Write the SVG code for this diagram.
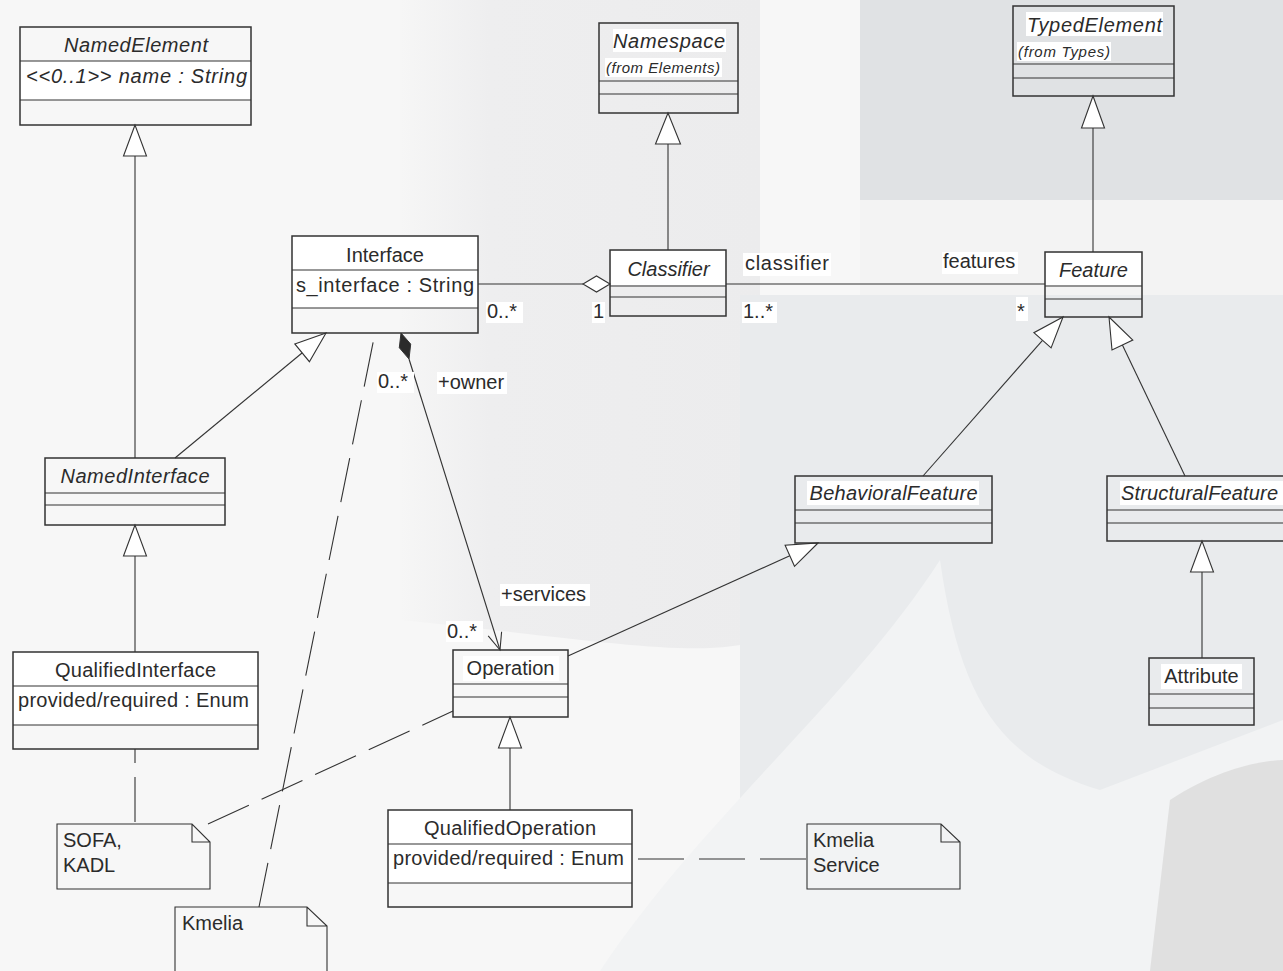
<svg xmlns="http://www.w3.org/2000/svg" width="1283" height="971" viewBox="0 0 1283 971">
<style>
.box{fill:none;stroke:#333;stroke-width:1.5}
.sep{stroke:#333;stroke-width:1.2}
.t{font-family:"Liberation Sans",Arial,sans-serif;font-size:20px;fill:#2b2b2b}
.i{font-style:italic}
.s{font-size:15px}
.m{text-anchor:middle}
.ln{stroke:#333;stroke-width:1.1;fill:none}
.dash{stroke-dasharray:45 14}
.tri{fill:#fff;stroke:#333;stroke-width:1.1}
.hl{fill:#fff}
.note{fill:none;stroke:#333;stroke-width:1.1}
</style>
<defs>
<linearGradient id="gMid" x1="0" y1="0" x2="1" y2="0">
<stop offset="0" stop-color="#f6f6f6"/>
<stop offset="0.25" stop-color="#eeeeef"/>
<stop offset="1" stop-color="#ececed"/>
</linearGradient>
</defs>
<g id="background">
<rect x="0" y="0" width="1283" height="971" fill="#f7f7f7"/>
<path d="M400,0 L760,0 L760,640 C700,660 600,640 400,620 Z" fill="url(#gMid)"/>
<rect x="860" y="0" width="423" height="200" fill="#e0e2e4"/>
<rect x="860" y="200" width="423" height="95" fill="#f3f3f3"/>
<rect x="740" y="295" width="543" height="676" fill="#e9ebed"/>
<path d="M600,971 C700,820 850,700 940,560 C960,700 1000,760 1100,790 L1283,720 L1283,971 Z" fill="#f2f3f4"/>
<path d="M1170,800 C1230,760 1283,760 1283,760 L1283,971 L1150,971 Z" fill="#e0e0e0"/>
</g>
<g id="connectors">
<line class="ln" x1="135" y1="156" x2="135" y2="458"/>
<polygon class="tri" points="135,125 123.5,156 146.5,156"/>
<line class="ln" x1="135" y1="556" x2="135" y2="652"/>
<polygon class="tri" points="135,525 123.5,556 146.5,556"/>
<line class="ln" x1="668" y1="144" x2="668" y2="250"/>
<polygon class="tri" points="668,113 655.5,144 680.5,144"/>
<line class="ln" x1="1093" y1="128" x2="1093" y2="252"/>
<polygon class="tri" points="1093,96 1081.5,128 1104.5,128"/>
<line class="ln" x1="1202" y1="572" x2="1202" y2="658"/>
<polygon class="tri" points="1202,541 1190.5,572 1213.5,572"/>
<line class="ln" x1="510" y1="748" x2="510" y2="810"/>
<polygon class="tri" points="510,717 498.5,748 521.5,748"/>
<line class="ln" x1="302" y1="353" x2="175" y2="458"/>
<polygon class="tri" points="326,333 309.4,361.7 294.8,343.9"/>
<line class="ln" x1="1042.5" y1="340.3" x2="923" y2="476"/>
<polygon class="tri" points="1063,317 1051.1,347.9 1033.9,332.7"/>
<line class="ln" x1="1122.4" y1="345" x2="1185" y2="476"/>
<polygon class="tri" points="1109,317 1132.8,340 1112,350"/>
<line class="ln" x1="789.8" y1="555.8" x2="568" y2="656"/>
<polygon class="tri" points="818,543 794.5,566.3 785.1,545.3"/>
<line class="ln" x1="478" y1="284" x2="583" y2="284"/>
<polygon class="tri" points="610,284 596.5,276 583,284 596.5,292"/>
<line class="ln" x1="726" y1="284" x2="1045" y2="284"/>
<polygon points="401,333 410.7,344.1 409,359 399.3,347.7" fill="#2b2b2b" stroke="#333" stroke-width="1"/>
<line class="ln" x1="409" y1="359" x2="500" y2="650"/>
<polyline class="ln" points="488.2,635.9 500,650 501.6,631.7"/>
<line class="ln dash" x1="135" y1="749" x2="135" y2="824" stroke-dashoffset="31"/>
<line class="ln dash" x1="208" y1="824" x2="453" y2="711"/>
<line class="ln dash" x1="259" y1="907" x2="375" y2="333"/>
<line class="ln" x1="632" y1="859" x2="807" y2="859" stroke-dasharray="46 15" stroke-dashoffset="-6"/>
<rect class="hl" x="486" y="302" width="37" height="21"/>
<text class="t" x="487" y="318">0..*</text>
<rect class="hl" x="592" y="302" width="13" height="21"/>
<text class="t" x="593" y="318">1</text>
<rect class="hl" x="743" y="253" width="88" height="23"/>
<text class="t" x="745" y="270" textLength="84">classifier</text>
<rect class="hl" x="742" y="302" width="35" height="21"/>
<text class="t" x="743" y="318">1..*</text>
<rect class="hl" x="942" y="252" width="76" height="22"/>
<text class="t" x="943" y="268">features</text>
<rect class="hl" x="1016" y="297" width="12" height="24"/>
<text class="t" x="1017" y="318">*</text>
<rect class="hl" x="377" y="372" width="37" height="21"/>
<text class="t" x="378" y="388">0..*</text>
<rect class="hl" x="437" y="372" width="70" height="22"/>
<text class="t" x="438" y="389">+owner</text>
<rect class="hl" x="500" y="584" width="90" height="22"/>
<text class="t" x="501" y="601">+services</text>
<rect class="hl" x="446" y="621" width="37" height="21"/>
<text class="t" x="447" y="638">0..*</text>
</g>
<g id="NamedElement">
<rect class="hl" x="20" y="61" width="231" height="39"/>
<rect class="box" x="20" y="27" width="231" height="98"/>
<line class="sep" x1="20" y1="61" x2="251" y2="61"/>
<line class="sep" x1="20" y1="100" x2="251" y2="100"/>
<text class="t i m" x="136" y="52" textLength="144">NamedElement</text>
<text class="t i" x="26" y="83" textLength="221">&lt;&lt;0..1&gt;&gt; name : String</text>
</g>
<g id="Namespace">
<rect class="hl" x="613" y="29" width="113" height="23"/>
<rect class="hl" x="605" y="58" width="117" height="19"/>
<rect class="box" x="599" y="23" width="139" height="90"/>
<line class="sep" x1="599" y1="81" x2="738" y2="81"/>
<line class="sep" x1="599" y1="94" x2="738" y2="94"/>
<text class="t i m" x="669" y="48" textLength="112">Namespace</text>
<text class="t i s" x="606" y="73" textLength="114">(from Elements)</text>
</g>
<g id="TypedElement">
<rect class="hl" x="1026" y="12" width="137" height="24"/>
<rect class="hl" x="1017" y="42" width="94" height="19"/>
<rect class="box" x="1013" y="6" width="161" height="90"/>
<line class="sep" x1="1013" y1="64" x2="1174" y2="64"/>
<line class="sep" x1="1013" y1="78" x2="1174" y2="78"/>
<text class="t i m" x="1094.5" y="32" textLength="135">TypedElement</text>
<text class="t i s" x="1018" y="57" textLength="92">(from Types)</text>
</g>
<g id="Interface">
<rect class="hl" x="292" y="236" width="186" height="72"/>
<rect class="box" x="292" y="236" width="186" height="97"/>
<line class="sep" x1="292" y1="270" x2="478" y2="270"/>
<line class="sep" x1="292" y1="308" x2="478" y2="308"/>
<text class="t m" x="385" y="262">Interface</text>
<text class="t" x="296" y="292" textLength="178">s_interface : String</text>
</g>
<g id="Classifier">
<rect class="hl" x="611" y="251" width="114" height="34"/>
<rect class="box" x="610" y="250" width="116" height="66"/>
<line class="sep" x1="610" y1="286" x2="726" y2="286"/>
<line class="sep" x1="610" y1="297" x2="726" y2="297"/>
<text class="t i m" x="668.5" y="276">Classifier</text>
</g>
<g id="Feature">
<rect class="hl" x="1046" y="253" width="95" height="32"/>
<rect class="box" x="1045" y="252" width="97" height="65"/>
<line class="sep" x1="1045" y1="286" x2="1142" y2="286"/>
<line class="sep" x1="1045" y1="299" x2="1142" y2="299"/>
<text class="t i m" x="1093.5" y="277">Feature</text>
</g>
<g id="NamedInterface">
<rect class="box" x="45" y="458" width="180" height="67"/>
<line class="sep" x1="45" y1="493" x2="225" y2="493"/>
<line class="sep" x1="45" y1="505" x2="225" y2="505"/>
<text class="t i m" x="135" y="483" textLength="149">NamedInterface</text>
</g>
<g id="BehavioralFeature">
<rect class="hl" x="807" y="481" width="172" height="24"/>
<rect class="box" x="795" y="476" width="197" height="67"/>
<line class="sep" x1="795" y1="510" x2="992" y2="510"/>
<line class="sep" x1="795" y1="523" x2="992" y2="523"/>
<text class="t i m" x="893.5" y="500" textLength="168">BehavioralFeature</text>
</g>
<g id="StructuralFeature">
<rect class="hl" x="1120" y="481" width="163" height="24"/>
<rect class="box" x="1107" y="476" width="190" height="65"/>
<line class="sep" x1="1107" y1="510" x2="1297" y2="510"/>
<line class="sep" x1="1107" y1="523" x2="1297" y2="523"/>
<text class="t i" x="1121" y="500" textLength="157">StructuralFeature</text>
</g>
<g id="Attribute">
<rect class="hl" x="1161" y="664" width="81" height="25"/>
<rect class="box" x="1149" y="658" width="105" height="67"/>
<line class="sep" x1="1149" y1="694" x2="1254" y2="694"/>
<line class="sep" x1="1149" y1="708" x2="1254" y2="708"/>
<text class="t m" x="1201.5" y="683">Attribute</text>
</g>
<g id="QualifiedInterface">
<rect class="hl" x="13" y="652" width="245" height="73"/>
<rect class="box" x="13" y="652" width="245" height="97"/>
<line class="sep" x1="13" y1="686" x2="258" y2="686"/>
<line class="sep" x1="13" y1="725" x2="258" y2="725"/>
<text class="t m" x="135.5" y="677" textLength="161">QualifiedInterface</text>
<text class="t" x="18" y="707" textLength="231">provided/required : Enum</text>
</g>
<g id="Operation">
<rect class="hl" x="463" y="656" width="96" height="25"/>
<rect class="box" x="453" y="650" width="115" height="67"/>
<line class="sep" x1="453" y1="684" x2="568" y2="684"/>
<line class="sep" x1="453" y1="697" x2="568" y2="697"/>
<text class="t m" x="510.5" y="675">Operation</text>
</g>
<g id="QualifiedOperation">
<rect class="hl" x="388" y="810" width="244" height="73"/>
<rect class="box" x="388" y="810" width="244" height="97"/>
<line class="sep" x1="388" y1="844" x2="632" y2="844"/>
<line class="sep" x1="388" y1="883" x2="632" y2="883"/>
<text class="t m" x="510" y="835" textLength="172">QualifiedOperation</text>
<text class="t" x="393" y="865" textLength="231">provided/required : Enum</text>
</g>
<g id="NoteSOFA">
<path class="note" d="M57,824 L192,824 L210,842 L210,889 L57,889 Z M192,824 L192,842 L210,842"/>
<text class="t" x="63" y="847">SOFA,</text>
<text class="t" x="63" y="872">KADL</text>
</g>
<g id="NoteKmelia">
<path class="note" d="M175,985 L175,907 L307,907 L327,926 L327,985 M307,907 L307,926 L327,926"/>
<text class="t" x="182" y="930">Kmelia</text>
</g>
<g id="NoteKmeliaService">
<path class="note" d="M807,824 L941,824 L960,842 L960,889 L807,889 Z M941,824 L941,842 L960,842"/>
<text class="t" x="813" y="847">Kmelia</text>
<text class="t" x="813" y="872">Service</text>
</g>
</svg>
